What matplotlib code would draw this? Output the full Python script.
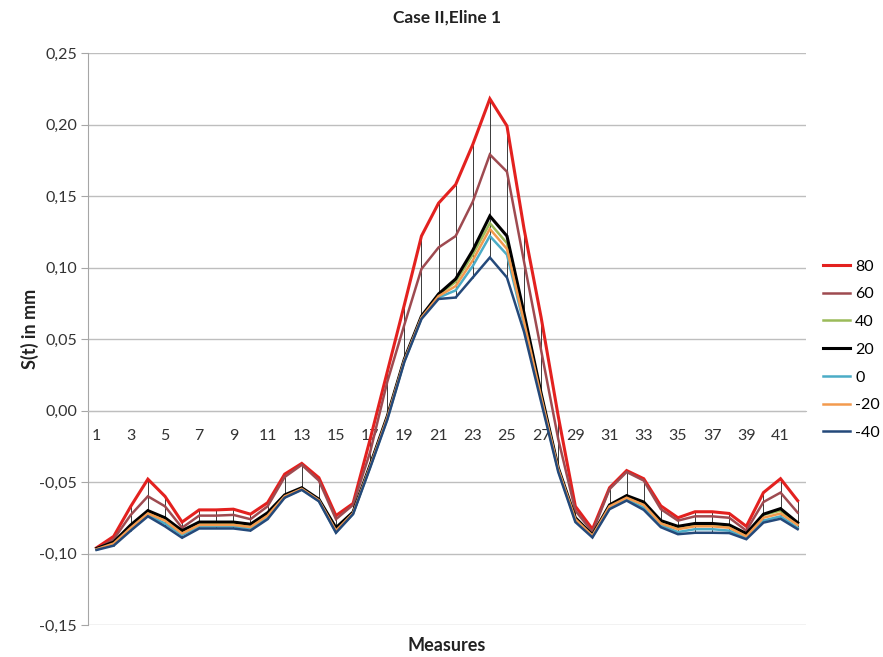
import matplotlib
matplotlib.use("Agg")
import matplotlib.pyplot as plt
from matplotlib.ticker import FuncFormatter, MultipleLocator

plt.rcParams['font.family'] = ['Lato', 'DejaVu Sans']

measures = list(range(1, 43))
labels = ["80", "60", "40", "20", "0", "-20", "-40"]
colors = ["#E3211F", "#9E4A50", "#9BBB59", "#000000", "#4BACC6", "#F39A4E", "#24497A"]

s80 = [-0.096, -0.088, -0.067, -0.048, -0.060, -0.078, -0.0695, -0.0695, -0.069, -0.0725,
       -0.0645, -0.0445, -0.037, -0.047, -0.0735, -0.065, -0.020, 0.027, 0.074, 0.122,
       0.145, 0.158, 0.186, 0.218, 0.199, 0.127, 0.065, -0.004, -0.067, -0.083,
       -0.054, -0.042, -0.0477, -0.0667, -0.075, -0.0708, -0.0708, -0.072, -0.081, -0.0574,
       -0.0477, -0.063]
s60 = [-0.097, -0.090, -0.073, -0.060, -0.067, -0.082, -0.0735, -0.0735, -0.073, -0.076,
       -0.067, -0.0465, -0.038, -0.049, -0.076, -0.066, -0.029, 0.020, 0.060, 0.099,
       0.114, 0.122, 0.146, 0.179, 0.167, 0.104, 0.042, -0.020, -0.070, -0.085,
       -0.055, -0.043, -0.049, -0.069, -0.077, -0.074, -0.074, -0.075, -0.084, -0.064,
       -0.0574, -0.0714]
s40 = [-0.0967, -0.0925, -0.081, -0.071, -0.076, -0.085, -0.079, -0.079, -0.079, -0.0805,
       -0.0725, -0.0595, -0.0545, -0.0625, -0.083, -0.0714, -0.0385, -0.0045, 0.0355, 0.0655,
       0.081, 0.090, 0.109, 0.131, 0.117, 0.065, 0.011, -0.0405, -0.0755, -0.0872,
       -0.0665, -0.060, -0.065, -0.078, -0.082, -0.080, -0.080, -0.081, -0.087, -0.073,
       -0.070, -0.079]
s20 = [-0.0965, -0.092, -0.080, -0.070, -0.075, -0.084, -0.078, -0.078, -0.078, -0.0795,
       -0.0715, -0.059, -0.054, -0.062, -0.082, -0.071, -0.038, -0.004, 0.036, 0.066,
       0.0815, 0.092, 0.112, 0.136, 0.122, 0.068, 0.012, -0.040, -0.075, -0.087,
       -0.066, -0.0595, -0.064, -0.077, -0.081, -0.079, -0.079, -0.080, -0.086, -0.0725,
       -0.0686, -0.0784]
s0 = [-0.0972, -0.0937, -0.083, -0.073, -0.079, -0.087, -0.081, -0.081, -0.081, -0.0825,
      -0.0745, -0.0605, -0.0552, -0.0632, -0.085, -0.0722, -0.0395, -0.006, 0.0345, 0.0645,
      0.079, 0.084, 0.101, 0.122, 0.109, 0.060, 0.008, -0.042, -0.077, -0.088,
      -0.068, -0.062, -0.068, -0.080, -0.085, -0.083, -0.083, -0.084, -0.089, -0.077,
      -0.074, -0.082]
sm20 = [-0.097, -0.093, -0.082, -0.072, -0.077, -0.086, -0.080, -0.080, -0.080, -0.0815,
        -0.0735, -0.060, -0.0548, -0.0628, -0.084, -0.0718, -0.039, -0.005, 0.035, 0.065,
        0.080, 0.087, 0.105, 0.127, 0.113, 0.062, 0.0095, -0.041, -0.076, -0.0876,
        -0.067, -0.061, -0.066, -0.079, -0.083, -0.081, -0.081, -0.082, -0.088, -0.075,
        -0.072, -0.080]
sm40 = [-0.0975, -0.0945, -0.084, -0.074, -0.081, -0.089, -0.0825, -0.0825, -0.0825, -0.084,
        -0.076, -0.061, -0.0555, -0.0635, -0.0855, -0.0725, -0.040, -0.0065, 0.034, 0.064,
        0.078, 0.079, 0.093, 0.107, 0.093, 0.055, 0.006, -0.043, -0.078, -0.0888,
        -0.069, -0.063, -0.0695, -0.0816, -0.0865, -0.0855, -0.0855, -0.0857, -0.090, -0.0784,
        -0.0757, -0.083]

series = [s80, s60, s40, s20, s0, sm20, sm40]

fig = plt.figure(figsize=(8.83, 6.57), dpi=100)
ax = fig.add_axes([0.0997, 0.0487, 0.8133, 0.8706])

# high-low lines joining the extremes at every measure
for i, x in enumerate(measures):
    vals = [s[i] for s in series]
    ax.vlines(x, min(vals), max(vals), color="#3a3a3a", linewidth=0.7, zorder=2)

for vals, lab, col in zip(series, labels, colors):
    lw = 2.2 if lab in ("80", "20") else 1.8
    ax.plot(measures, vals, color=col, linewidth=lw, label=lab, zorder=3,
            solid_joinstyle="miter")

ax.set_xlim(0.5, 42.5)
ax.set_ylim(-0.15, 0.25)
ax.yaxis.set_major_locator(MultipleLocator(0.05))
ax.yaxis.set_major_formatter(FuncFormatter(lambda v, p: f"{v:.2f}".replace(".", ",")))
ax.grid(axis="y", color="#BEBEBE", linewidth=1.0)
ax.set_axisbelow(True)

ax.set_xticks(measures[::2])
ax.set_xticklabels([str(m) for m in measures[::2]])
ax.spines["bottom"].set_position(("data", 0))
ax.spines["bottom"].set_color("#BEBEBE")
ax.spines["top"].set_visible(False)
ax.spines["right"].set_visible(False)
ax.spines["left"].set_color("#A6A6A6")
ax.tick_params(axis="x", length=0, pad=13, labelsize=11.5, colors="#333333")
ax.tick_params(axis="y", length=5, color="#A6A6A6", labelsize=11.5, labelcolor="#333333", pad=3)

fig.text(0.506, 0.973, "Case II,Eline 1", ha="center", va="center",
         fontsize=12.5, fontweight="bold", color="#222222")
fig.text(0.034, 0.50, "S(t) in mm", ha="center", va="center", rotation=90,
         fontsize=13, fontweight="bold", color="#222222")
fig.text(0.506, 0.018, "Measures", ha="center", va="center",
         fontsize=13, fontweight="bold", color="#222222")

fig.legend(loc="upper left", bbox_to_anchor=(0.925, 0.615), frameon=False,
           fontsize=11.5, handlelength=1.7, handletextpad=0.3, labelspacing=0.85,
           borderaxespad=0)

fig.savefig("out.png", dpi=100)
